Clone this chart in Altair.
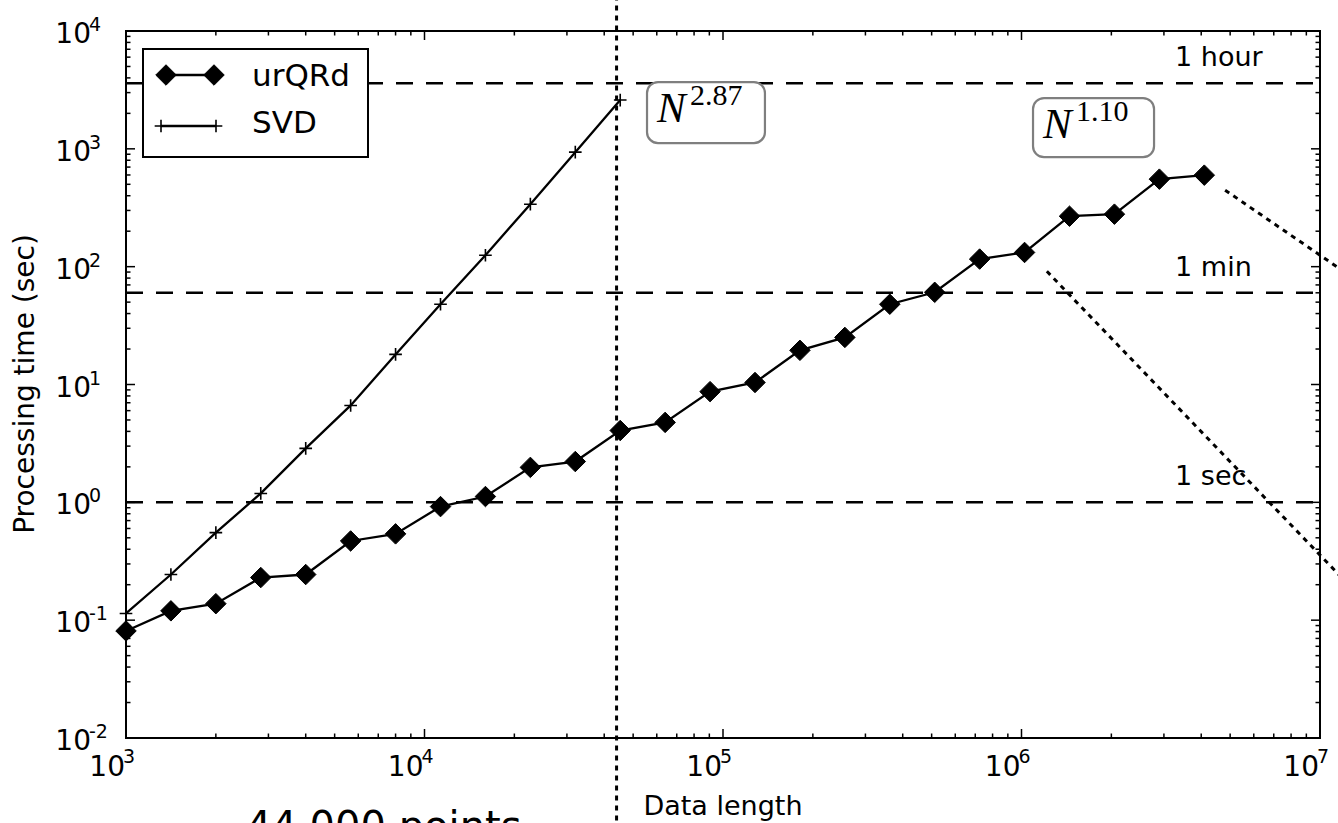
import altair as alt
import pandas as pd

# ---- measured processing times -------------------------------------------
n_urqrd = [1000, 1414, 2000, 2828, 4000, 5657, 8000, 11314, 16000, 22627,
           32000, 45255, 64000, 90510, 128000, 181019, 256000, 362039,
           512000, 724077, 1024000, 1448155, 2048000, 2896309, 4096000]
t_urqrd = [0.081, 0.12, 0.138, 0.23, 0.244, 0.47, 0.54, 0.92, 1.12, 1.98,
           2.22, 4.07, 4.77, 8.7, 10.4, 19.5, 25.1, 48, 60.6, 116,
           132, 268, 279, 553, 598]

n_svd = [1000, 1414, 2000, 2828, 4000, 5657, 8000, 11314, 16000, 22627,
         32000, 45255]
t_svd = [0.114, 0.244, 0.553, 1.19, 2.87, 6.64, 18, 48, 125, 339, 937, 2594]

# reference durations (seconds)
ref_labels = ["1 hour", "1 min", "1 sec"]
ref_values = [3600, 60, 1]
ref_label_x = 3.27e6

# slope annotations (boxes in data units)
slope_sup = ["2.87", "1.10"]
slope_x0 = [55650, 1.093e6]
slope_x1 = [138200, 2.78e6]
slope_y0 = [3687, 2696]
slope_y1 = [1118, 850]

# cut-off marker at 44,000 points
cut_n = 44000
cut_label = "44,000 points"

# dotted guide lines running off the right edge
guide_id = ["a", "a", "b", "b"]
guide_n = [1.216e6, 1.2e7, 4.81e6, 1.2e7]
guide_t = [91.4, 0.221, 446, 91.2]

# axis decades
x_decades = [3, 4, 5, 6, 7]
y_decades = [-2, -1, 0, 1, 2, 3, 4]

W, H = 1194, 707
FONT = "DejaVu Sans"
SERIF = "Liberation Serif"

xs = alt.Scale(type="log", domain=[1e3, 1e7], nice=False)
ys = alt.Scale(type="log", domain=[1e-2, 1e4], nice=False)

df_u = pd.DataFrame({"n": n_urqrd, "t": t_urqrd})
df_s = pd.DataFrame({"n": n_svd, "t": t_svd})
df_ref = pd.DataFrame({"label": ref_labels, "t": ref_values, "n": ref_label_x})
df_box = pd.DataFrame({"sup": slope_sup, "x0": slope_x0, "x1": slope_x1,
                       "y0": slope_y0, "y1": slope_y1})
df_guide = pd.DataFrame({"g": guide_id, "n": guide_n, "t": guide_t})

X = lambda f="n": alt.X(f"{f}:Q", scale=xs, axis=None)
Y = lambda f="t": alt.Y(f"{f}:Q", scale=ys, axis=None)

# reference lines
ref_lines = alt.Chart(df_ref).mark_rule(
    color="black", strokeWidth=2.5, strokeDash=[17, 13]
).encode(y=Y(), x=alt.value(0), x2=alt.value(W))

ref_text = alt.Chart(df_ref).mark_text(
    font=FONT, fontSize=27, align="left", baseline="alphabetic", dy=-17,
    color="black"
).encode(x=X(), y=Y(), text="label:N")

# vertical cut line at 44,000 points (runs past the plot edges)
df_cut = pd.DataFrame({"n": [cut_n], "ta": [2e4], "tb": [1e-3]})
cut_line = alt.Chart(df_cut).mark_rule(
    color="black", strokeWidth=3, strokeDash=[5, 5]
).encode(x=X(), y=Y("ta"), y2="tb:Q")

cut_text = alt.Chart(pd.DataFrame({"s": [cut_label]})).mark_text(
    font=FONT, fontSize=40, align="left", baseline="alphabetic", color="black"
).encode(x=alt.value(120), y=alt.value(H + 102), text="s:N")

guides = alt.Chart(df_guide).mark_line(
    color="black", strokeWidth=3, strokeDash=[5, 5], clip=False
).encode(x=X(), y=Y(), detail="g:N")

# data series
svd_line = alt.Chart(df_s).mark_line(color="black", strokeWidth=2.3).encode(x=X(), y=Y())
svd_pts = alt.Chart(df_s).mark_point(
    shape="M-1,0H1M0,-1V1", size=160, stroke="black", strokeWidth=1.6,
    filled=False, opacity=1
).encode(x=X(), y=Y())
urq_line = alt.Chart(df_u).mark_line(color="black", strokeWidth=2.3).encode(x=X(), y=Y())
urq_pts = alt.Chart(df_u).mark_point(
    shape="diamond", size=420, fill="black", stroke="black", strokeWidth=1,
    filled=True, opacity=1
).encode(x=X(), y=Y())

# slope annotation boxes
boxes = alt.Chart(df_box).mark_rect(
    fill="white", stroke="#7f7f7f", strokeWidth=2.2, cornerRadius=11
).encode(x=X("x0"), x2="x1:Q", y=Y("y0"), y2="y1:Q")
box_n = alt.Chart(df_box).mark_text(
    font=SERIF, fontStyle="italic", fontSize=43, align="left",
    baseline="alphabetic", dx=10, dy=40, color="black"
).encode(x=X("x0"), y=Y("y0"), text=alt.value("N"))
box_sup = alt.Chart(df_box).mark_text(
    font=SERIF, fontSize=30, align="left", baseline="alphabetic",
    dx=43, dy=23, color="black"
).encode(x=X("x0"), y=Y("y0"), text="sup:N")

# ticks (inside, on all four sides)
xmaj = [10.0 ** d for d in x_decades]
xmin = [m * 10.0 ** d for d in x_decades[:-1] for m in range(2, 10)]
ymaj = [10.0 ** d for d in y_decades]
ymin = [m * 10.0 ** d for d in y_decades[:-1] for m in range(2, 10)]

def xticks(vals, length):
    d = pd.DataFrame({"n": vals})
    base = alt.Chart(d).mark_rule(color="black", strokeWidth=1.5)
    return (base.encode(x=X(), y=alt.value(H), y2=alt.value(H - length))
            + base.encode(x=X(), y=alt.value(0), y2=alt.value(length)))

def yticks(vals, length):
    d = pd.DataFrame({"t": vals})
    base = alt.Chart(d).mark_rule(color="black", strokeWidth=1.5)
    return (base.encode(y=Y(), x=alt.value(0), x2=alt.value(length))
            + base.encode(y=Y(), x=alt.value(W), x2=alt.value(W - length)))

ticks = xticks(xmaj, 9) + xticks(xmin, 4.5) + yticks(ymaj, 9) + yticks(ymin, 4.5)

# tick labels written as 10 with a raised exponent
df_xl = pd.DataFrame({"n": xmaj, "e": [str(d) for d in x_decades]})
df_yl = pd.DataFrame({"t": ymaj, "e": [str(d) for d in y_decades]})
lab = dict(font=FONT, baseline="alphabetic", color="black")
xlab_base = alt.Chart(df_xl).mark_text(fontSize=28, align="right", dx=-1, **lab).encode(
    x=X(), y=alt.value(H + 38), text=alt.value("10"))
xlab_exp = alt.Chart(df_xl).mark_text(fontSize=19, align="left", dx=-3, **lab).encode(
    x=X(), y=alt.value(H + 25), text="e:N")
ylab_base = alt.Chart(df_yl).mark_text(fontSize=28, align="right", dy=12, **lab).encode(
    y=Y(), x=alt.value(-35), text=alt.value("10"))
ylab_exp = alt.Chart(df_yl).mark_text(fontSize=19, align="left", dy=0, **lab).encode(
    y=Y(), x=alt.value(-37), text="e:N")

xtitle = alt.Chart(pd.DataFrame({"s": ["Data length"]})).mark_text(
    fontSize=27, align="center", **lab).encode(
    x=alt.value(W / 2), y=alt.value(H + 77), text="s:N")
ytitle = alt.Chart(pd.DataFrame({"s": ["Processing time (sec)"]})).mark_text(
    fontSize=28, align="center", angle=270, **lab).encode(
    x=alt.value(-92), y=alt.value(353), text="s:N")

# legend
leg_names = ["urQRd", "SVD"]
leg_box = alt.Chart(pd.DataFrame({"a": [0]})).mark_rect(
    fill="white", stroke="black", strokeWidth=2).encode(
    x=alt.value(17), x2=alt.value(242), y=alt.value(18), y2=alt.value(126))
leg_l1 = alt.Chart(pd.DataFrame({"a": [0]})).mark_rule(color="black", strokeWidth=2.3).encode(
    x=alt.value(34), x2=alt.value(94), y=alt.value(44))
leg_l2 = alt.Chart(pd.DataFrame({"a": [0]})).mark_rule(color="black", strokeWidth=2.3).encode(
    x=alt.value(35), x2=alt.value(90), y=alt.value(95))
leg_d = alt.Chart(pd.DataFrame({"px": [40, 88]})).mark_point(
    shape="diamond", size=420, fill="black", stroke="black", strokeWidth=1,
    filled=True, opacity=1).encode(x=alt.X("px:Q", scale=None), y=alt.value(44))
leg_p = alt.Chart(pd.DataFrame({"px": [35, 90]})).mark_point(
    shape="M-1,0H1M0,-1V1", size=160, stroke="black", strokeWidth=1.6,
    filled=False, opacity=1).encode(x=alt.X("px:Q", scale=None), y=alt.value(95))
leg_text = alt.Chart(pd.DataFrame({"s": leg_names, "py": [55, 102]})).mark_text(
    fontSize=31, align="left", **lab).encode(
    x=alt.value(126), y=alt.Y("py:Q", scale=None), text="s:N")

chart = alt.layer(
    ref_lines, leg_box, cut_line, guides,
    svd_line, urq_line, svd_pts, urq_pts,
    boxes, box_n, box_sup, ref_text,
    ticks, xlab_base, xlab_exp, ylab_base, ylab_exp, xtitle, ytitle,
    cut_text, leg_l1, leg_l2, leg_d, leg_p, leg_text,
).properties(
    width=W, height=H,
    autosize=alt.AutoSizeParams(type="none"),
    padding={"left": 126, "top": 31, "right": 1338 - 126 - W, "bottom": 823 - 31 - H},
    background="white",
).configure_view(stroke="black", strokeWidth=2)

chart.save("out.html", embed_options={"renderer": "svg", "actions": False})
